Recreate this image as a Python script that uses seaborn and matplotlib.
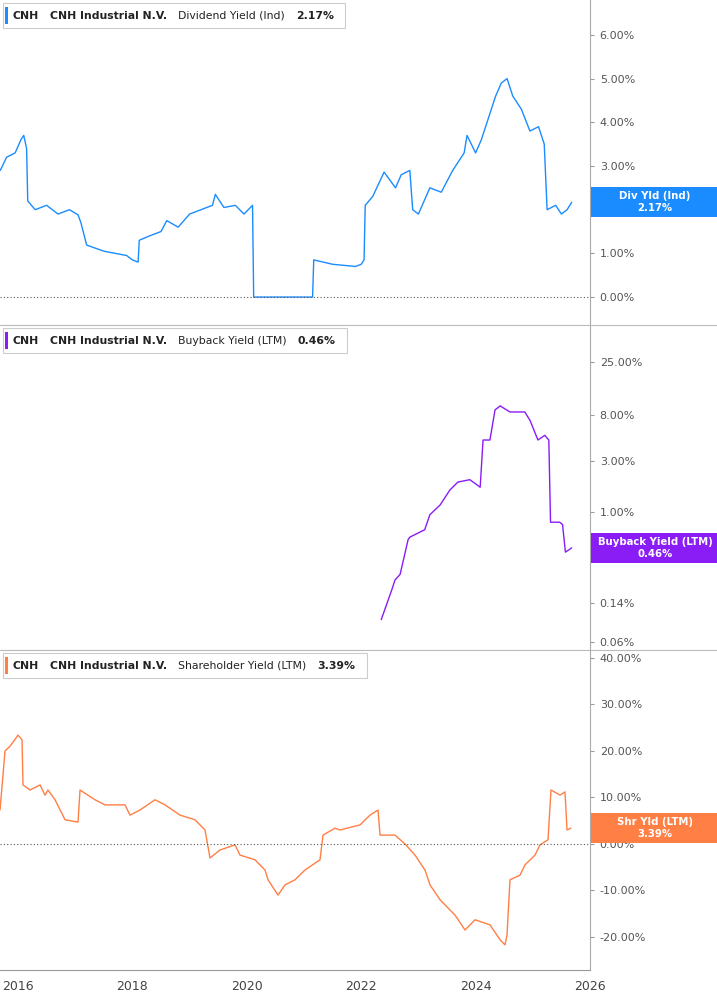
import numpy as np
import pandas as pd
import matplotlib
matplotlib.use("Agg")
import matplotlib.pyplot as plt
from matplotlib.patches import Rectangle
from matplotlib.ticker import FixedLocator, NullLocator
import seaborn as sns

sns.set_style("white")
plt.rcParams["font.family"] = "DejaVu Sans"

# Dividend yield (Ind), %
div_year = [2015.69, 2015.8, 2015.95, 2016.05, 2016.1, 2016.15, 2016.17, 2016.3, 2016.5, 2016.7, 2016.9,
            2017.05, 2017.1, 2017.2, 2017.5, 2017.9, 2018.0, 2018.1, 2018.12, 2018.3, 2018.5, 2018.6,
            2018.8, 2019.0, 2019.2, 2019.4, 2019.45, 2019.6, 2019.8, 2019.95, 2020.1, 2020.12, 2021.15,
            2021.17, 2021.5, 2021.9, 2022.0, 2022.05, 2022.07, 2022.2, 2022.4, 2022.6, 2022.7, 2022.85,
            2022.9, 2023.0, 2023.2, 2023.4, 2023.6, 2023.8, 2023.85, 2024.0, 2024.1, 2024.2, 2024.35,
            2024.45, 2024.55, 2024.65, 2024.8, 2024.95, 2025.1, 2025.2, 2025.25, 2025.4, 2025.5, 2025.6,
            2025.68]
div_val = [2.9, 3.2, 3.3, 3.6, 3.7, 3.4, 2.2, 2.0, 2.1, 1.9, 2.0,
           1.88, 1.7, 1.19, 1.05, 0.95, 0.85, 0.8, 1.3, 1.4, 1.5, 1.75,
           1.6, 1.9, 2.0, 2.1, 2.35, 2.05, 2.1, 1.9, 2.1, 0.0, 0.0,
           0.85, 0.75, 0.7, 0.75, 0.85, 2.1, 2.3, 2.86, 2.5, 2.8, 2.9,
           2.0, 1.9, 2.5, 2.4, 2.9, 3.3, 3.7, 3.3, 3.6, 4.0, 4.6,
           4.9, 5.0, 4.6, 4.3, 3.8, 3.9, 3.5, 2.0, 2.1, 1.9, 2.0,
           2.17]

# Buyback yield (LTM), %
bb_year = [2022.35, 2022.54, 2022.59, 2022.68, 2022.82, 2022.85, 2023.11, 2023.2, 2023.38, 2023.55,
           2023.69, 2023.9, 2024.08, 2024.13, 2024.25, 2024.34, 2024.43, 2024.6, 2024.86, 2024.95,
           2025.09, 2025.21, 2025.28, 2025.31, 2025.47, 2025.52, 2025.57, 2025.68]
bb_val = [0.098, 0.19, 0.23, 0.26, 0.55, 0.58, 0.68, 0.94, 1.16, 1.6,
          1.9, 2.0, 1.7, 4.7, 4.7, 9.0, 9.8, 8.6, 8.6, 7.2,
          4.7, 5.2, 4.7, 0.8, 0.8, 0.76, 0.42, 0.46]

# Shareholder yield (LTM), %
sh_x = [0, 5, 10, 18, 22, 23, 30, 40, 45, 48, 55, 65, 78, 80, 95, 105, 125, 130, 140, 155, 165, 180,
        195, 205, 210, 220, 235, 240, 255, 265, 268, 278, 285, 295, 305, 320, 323, 335, 340, 360, 370,
        378, 380, 395, 405, 415, 425, 430, 440, 455, 465, 475, 490, 500, 505, 507, 510, 520, 525, 535,
        540, 548, 551, 560, 565, 567, 571]
sh_year = [round(2016 + (x - 18) / 57.2, 3) for x in sh_x]
sh_val = [7.3, 20.0, 21.0, 23.4, 22.4, 12.7, 11.6, 12.7, 10.5, 11.6, 9.5, 5.2, 4.7, 11.6, 9.5, 8.4, 8.4,
          6.2, 7.3, 9.5, 8.4, 6.2, 5.2, 3.0, -3.0, -1.3, -0.2, -2.4, -3.4, -5.6, -7.7, -11.0, -8.8, -7.7,
          -5.6, -3.4, 1.9, 3.4, 3.0, 4.1, 6.2, 7.3, 1.9, 1.9, 0.0, -2.4, -5.6, -8.8, -12.0, -15.3, -18.5,
          -16.3, -17.4, -20.6, -21.7, -19.6, -7.7, -6.7, -4.5, -2.4, -0.2, 0.9, 11.6, 10.5, 11.2, 3.0, 3.39]

div_ticks = [0, 1, 2, 3, 4, 5, 6]
bb_ticks = [0.06, 0.14, 0.37, 1, 3, 8, 25]
sh_ticks = [-20, -10, 0, 10, 20, 30, 40]
year_ticks = [2016, 2018, 2020, 2022, 2024, 2026]

BLUE, PURPLE, ORANGE = "#1a8cff", "#8a1cf5", "#ff7f45"
W, H = 717, 1005
fig = plt.figure(figsize=(7.17, 10.05), dpi=100)
right = 590 / W
panels = [(0, 325), (325, 650), (650, 970)]
axes = [fig.add_axes([0, 1 - b / H, right, (b - t) / H]) for t, b in panels]

series = [
    (div_year, div_val, BLUE, "Dividend Yield (Ind)", "2.17%", "Div Yld (Ind)", (-0.64, 6.8), div_ticks, False),
    (bb_year, bb_val, PURPLE, "Buyback Yield (LTM)", "0.46%", "Buyback Yield (LTM)", (0.051, 56), bb_ticks, True),
    (sh_year, sh_val, ORANGE, "Shareholder Yield (LTM)", "3.39%", "Shr Yld (LTM)", (-27.1, 41.7), sh_ticks, False),
]

renderer = fig.canvas.get_renderer()

for i, (ax, (xs, ys, col, name, last, tag, ylim, ticks, logy)) in enumerate(zip(axes, series)):
    df = pd.DataFrame({"year": xs, "val": ys})
    sns.lineplot(data=df, x="year", y="val", ax=ax, color=col, lw=1.0)
    if logy:
        ax.set_yscale("log")
    ax.set_xlim(2015.685, 2026.0)
    ax.set_ylim(*ylim)
    ax.yaxis.tick_right()
    ax.yaxis.set_major_locator(FixedLocator(ticks))
    ax.yaxis.set_minor_locator(NullLocator())
    ax.set_yticklabels([f"{t:.2f}%" for t in ticks], fontsize=8, color="#555555")
    ax.tick_params(axis="y", length=3, color="#999999", pad=4)
    ax.set_xlabel("")
    ax.set_ylabel("")
    for s in ["left", "top"]:
        ax.spines[s].set_visible(False)
    ax.spines["right"].set_color("#aaaaaa")
    ax.spines["bottom"].set_color("#cccccc")
    if not logy:
        ax.axhline(0, color="#555555", lw=0.8, ls=(0, (1, 2)))
    if i < 2:
        ax.set_xticks([])
    else:
        ax.set_xticks(year_ticks)
        ax.set_xticklabels([str(y) for y in year_ticks], fontsize=9, color="#444444")
        ax.tick_params(axis="x", length=4, color="#999999")
        ax.spines["bottom"].set_color("#999999")

    # legend header, texts placed one after another
    t = panels[i][0]
    ty = 1 - (t + 16) / H
    xpos = 13
    parts = [("CNH", "bold"), ("CNH Industrial N.V.", "bold"), (name, "normal"), (last, "bold")]
    for txt, wt in parts:
        tx = fig.text(xpos / W, ty, txt, fontsize=7.8, weight=wt, va="center", color="#222222", zorder=7)
        xpos += tx.get_window_extent(renderer).width + 11
    fig.patches.append(Rectangle((3 / W, 1 - (t + 28) / H), (xpos - 3) / W, 25 / H, transform=fig.transFigure,
                                 fc="white", ec="#cccccc", lw=0.8, zorder=5))
    fig.patches.append(Rectangle((5 / W, 1 - (t + 24) / H), 3 / W, 17 / H, transform=fig.transFigure,
                                 fc=col, ec="none", zorder=6))

    # value tag on the right
    ypix = ax.transData.transform((2020, ys[-1]))[1]
    yf = ypix / H
    fig.patches.append(Rectangle((591 / W, yf - 15 / H), 126 / W, 30 / H, transform=fig.transFigure,
                                 fc=col, ec="none", zorder=5))
    fig.text(655 / W, yf, f"{tag}\n{last}", fontsize=7.3, color="white", weight="bold",
             ha="center", va="center", linespacing=1.2, zorder=6)

for t in [325, 650]:
    fig.add_artist(plt.Line2D([0, 1], [1 - t / H] * 2, color="#bbbbbb", lw=0.8, transform=fig.transFigure))

fig.savefig("out.png", dpi=100)
